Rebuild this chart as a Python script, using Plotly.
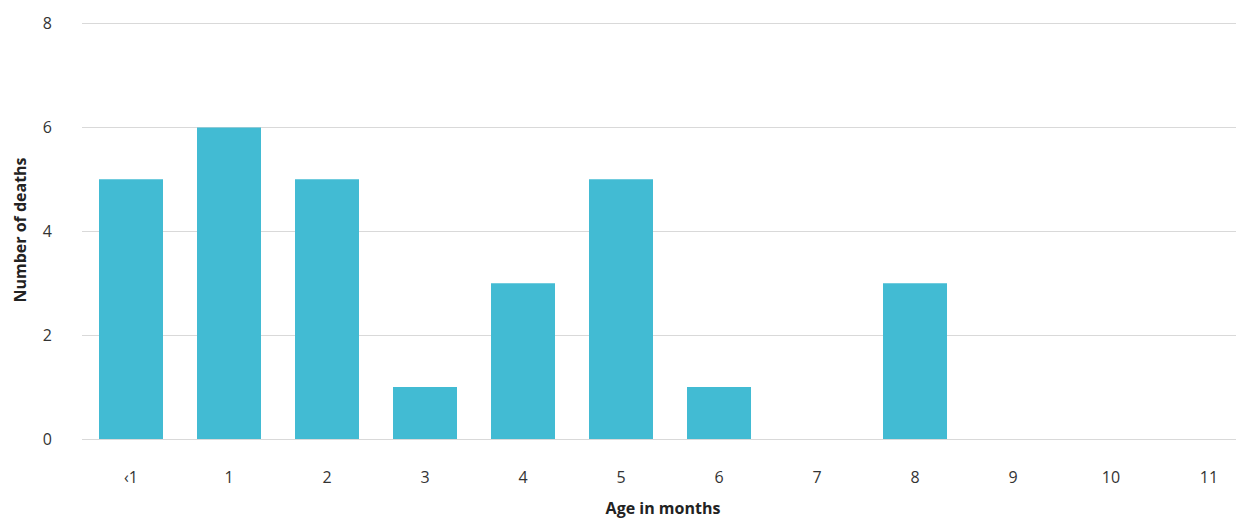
import plotly.graph_objects as go

categories = ["‹1", "1", "2", "3", "4", "5", "6", "7", "8", "9", "10", "11"]
deaths = [5, 6, 5, 1, 3, 5, 1, 0, 3, 0, 0, 0]
y_ticks = [0, 2, 4, 6, 8]

fig = go.Figure(go.Bar(x=categories, y=deaths, marker=dict(color="#42BBD3", line=dict(width=0))))

# page body has an 8px margin, so the figure is sized to fit the window
fig.update_layout(
    width=1236, height=511,
    margin=dict(l=74, r=0, t=13, b=80),
    paper_bgcolor="white", plot_bgcolor="white",
    bargap=0.347,
    showlegend=False,
    font=dict(family="Open Sans", size=16, color="#333333"),
)
fig.update_xaxes(
    type="category", range=[-0.5, 11.357],
    showgrid=False, showline=False, zeroline=False,
    ticks="outside", ticklen=24, tickcolor="rgba(0,0,0,0)",
    title=dict(text="<b>Age in months</b>", font=dict(size=16, color="#222222"), standoff=17),
)
fig.update_yaxes(
    range=[0, 8.05], tickvals=y_ticks,
    showgrid=True, gridcolor="#d9d9d9", gridwidth=1.3,
    zeroline=True, zerolinecolor="#d9d9d9", zerolinewidth=1.3,
    showline=False,
    ticks="outside", ticklen=26, tickcolor="rgba(0,0,0,0)",
    title=dict(text="<b>Number of deaths</b>", font=dict(size=16, color="#222222"), standoff=12),
)

fig.write_html("out.html")
